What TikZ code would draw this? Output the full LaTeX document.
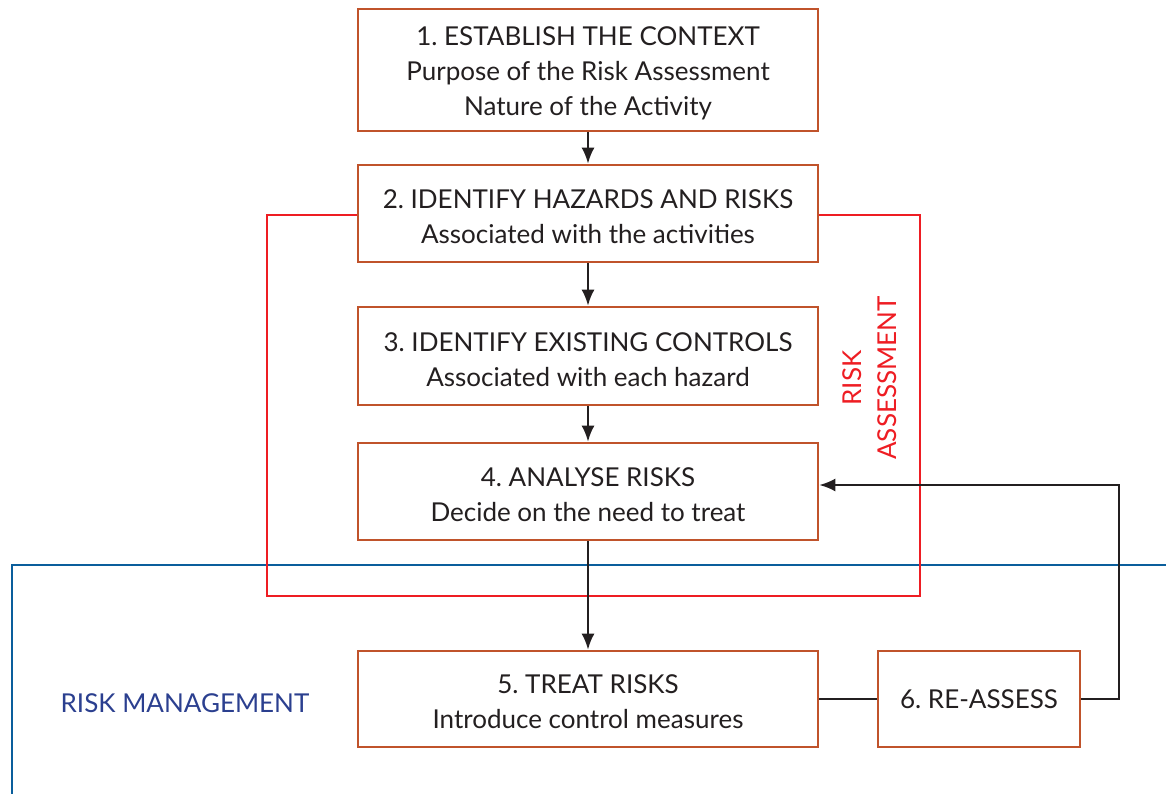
\documentclass[tikz,border=0pt]{standalone}
\usepackage{fontspec}
\setmainfont{Lato}
\usetikzlibrary{arrows.meta}
\definecolor{boxline}{HTML}{C0532B}
\definecolor{assessred}{HTML}{EE1D23}
\definecolor{manageblue}{HTML}{0A5E9C}
\definecolor{managetext}{HTML}{2B3F8F}
\definecolor{inktext}{HTML}{231F20}
\frenchspacing

\begin{document}
\begin{tikzpicture}
    [
    x=1pt, y=-1pt,
    every node/.style={font=\fontsize{26}{35}\selectfont, text=inktext},
    stepbox/.style={draw=boxline, line width=2.6pt, fill=white, minimum width=460pt, align=center, inner sep=0pt, text height=60.5pt},
    flow/.style={-{Latex[length=16pt,width=13pt]}, line width=2.2pt, draw=inktext},
    ]
    \useasboundingbox (0,0) rectangle (1166,794);

    % the two areas
    \draw [draw=manageblue, line width=2.6pt] (1180,565) -- (12,565) -- (12,810);
    \draw [draw=assessred, line width=2.6pt] (267,215) rectangle (920,596);

    \node (establish) at (588,70) [stepbox, minimum height=122pt, text height=95pt]
        {1. ESTABLISH THE CONTEXT\\Purpose of the Risk Assessment\\Nature of the Activity};
    \node (identify) at (588,213.5) [stepbox, minimum height=97pt]
        {2. IDENTIFY HAZARDS AND RISKS\\Associated with the activities};
    \node (controls) at (588,356) [stepbox, minimum height=98pt]
        {3. IDENTIFY EXISTING CONTROLS\\Associated with each hazard};
    \node (analyse) at (588,491.5) [stepbox, minimum height=97pt]
        {4. ANALYSE RISKS\\Decide on the need to treat};
    \node (treat) at (588,699) [stepbox, minimum height=96pt, text height=59.5pt]
        {5. TREAT RISKS\\Introduce control measures};
    \node (reassess) at (979,699) [stepbox, minimum width=202pt, minimum height=96pt, text height=18.6pt]
        {6. RE-ASSESS};

    \node (assesslabel) at (870,378) [rotate=90, align=center, text=assessred]
        {RISK\\ASSESSMENT};
    \node (managelabel) at (185,703) [text=managetext] {RISK MANAGEMENT};

    \draw [flow] (establish) to (identify);
    \draw [flow] (identify) to (controls);
    \draw [flow] (controls) to (analyse);
    \draw [flow] (analyse) to (treat);
    \draw [line width=2.2pt, draw=inktext] (treat) to (reassess);
    \coordinate (loopback) at (1119,699);
    \draw [flow] (reassess.east) -- (loopback) |- ([yshift=6.5pt]analyse.east);
\end{tikzpicture}
\end{document}
